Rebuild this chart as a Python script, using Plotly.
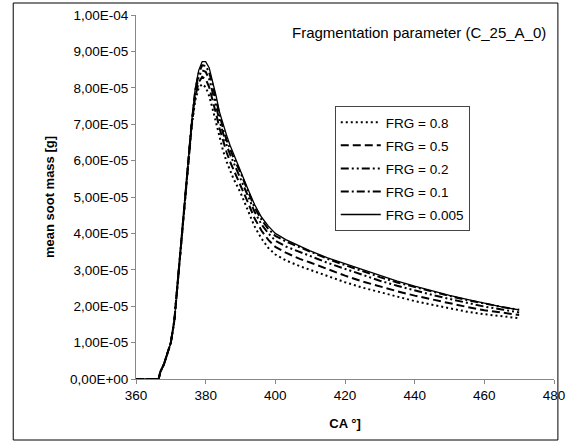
import plotly.graph_objects as go

# crank angle [°]
ca = [360, 362, 364, 366, 366.5, 367, 368, 369, 370, 371, 372, 373, 374, 375, 376,
      377, 378, 379, 380, 381, 382, 383, 384, 385, 386, 387, 388, 390, 392, 394,
      396, 398, 400, 403, 407, 410, 415, 420, 425, 430, 435, 440, 445, 450, 455,
      460, 465, 470]

# mean soot mass in units of 1e-5 g
frg_0_8 = [0, 0, 0, 0, 0, 0.2, 0.4, 0.7, 1.0, 1.6, 2.7, 3.9, 4.8, 5.9, 6.95,
           7.65, 8.0, 8.1, 8.02, 7.78, 7.42, 7.02, 6.62, 6.27, 5.97, 5.72, 5.5, 5.12, 4.65, 4.2,
           3.86, 3.6, 3.42, 3.26, 3.1, 3.0, 2.82, 2.66, 2.51, 2.38, 2.26, 2.14, 2.04, 1.94, 1.85,
           1.78, 1.72, 1.67]
frg_0_5 = [0, 0, 0, 0, 0, 0.2, 0.4, 0.7, 1.0, 1.6, 2.7, 3.9, 4.8, 5.9, 7.0,
           7.75, 8.15, 8.3, 8.24, 8.02, 7.68, 7.28, 6.88, 6.53, 6.23, 5.97, 5.75, 5.36, 4.88, 4.42,
           4.08, 3.82, 3.63, 3.47, 3.3, 3.2, 3.01, 2.84, 2.68, 2.54, 2.41, 2.29, 2.18, 2.07, 1.98,
           1.89, 1.82, 1.76]
frg_0_2 = [0, 0, 0, 0, 0, 0.2, 0.4, 0.7, 1.0, 1.6, 2.7, 3.9, 4.8, 5.9, 7.02,
           7.85, 8.3, 8.48, 8.44, 8.24, 7.9, 7.5, 7.08, 6.73, 6.43, 6.17, 5.95, 5.55, 5.06, 4.6,
           4.25, 4.0, 3.8, 3.64, 3.48, 3.38, 3.19, 3.02, 2.85, 2.7, 2.56, 2.43, 2.31, 2.2, 2.09,
           1.99, 1.91, 1.83]
frg_0_1 = [0, 0, 0, 0, 0, 0.2, 0.4, 0.7, 1.0, 1.6, 2.7, 3.9, 4.8, 5.9, 7.05,
           7.92, 8.4, 8.62, 8.6, 8.42, 8.08, 7.66, 7.22, 6.87, 6.57, 6.3, 6.08, 5.67, 5.17, 4.72,
           4.38, 4.12, 3.93, 3.78, 3.62, 3.5, 3.3, 3.13, 2.96, 2.8, 2.65, 2.52, 2.4, 2.28, 2.17,
           2.07, 1.98, 1.9]
frg_0_005 = [0, 0, 0, 0, 0, 0.2, 0.4, 0.7, 1.0, 1.6, 2.7, 3.9, 4.8, 5.9, 7.08,
             7.98, 8.48, 8.72, 8.72, 8.55, 8.2, 7.78, 7.32, 6.98, 6.7, 6.42, 6.18, 5.75, 5.25, 4.8,
             4.45, 4.2, 4.0, 3.83, 3.65, 3.52, 3.33, 3.17, 3.0, 2.84, 2.69, 2.55, 2.42, 2.3, 2.19,
             2.08, 1.98, 1.9]

series_names = ["FRG = 0.8", "FRG = 0.5", "FRG = 0.2", "FRG = 0.1", "FRG = 0.005"]
series_vals = [frg_0_8, frg_0_5, frg_0_2, frg_0_1, frg_0_005]
series_dash = ["2px,3px", "8px,4px", "8px,3px,2px,3px,2px,3px", "8px,3px,2px,3px", "solid"]
series_width = [2, 2, 2, 2, 1.3]

scale = 1e-5
y_tickvals = [i * 1e-5 for i in range(11)]
y_ticktext = ["0,00E+00", "1,00E-05", "2,00E-05", "3,00E-05", "4,00E-05", "5,00E-05",
              "6,00E-05", "7,00E-05", "8,00E-05", "9,00E-05", "1,00E-04"]
x_tickvals = [360, 380, 400, 420, 440, 460, 480]

fig = go.Figure()
for i, (name, vals, dash, w) in enumerate(zip(series_names, series_vals, series_dash, series_width)):
    fig.add_trace(go.Scatter(
        x=ca, y=[v * scale for v in vals], mode="lines", name=name,
        legendgroup="g%d" % i,
        line=dict(color="black", width=w, dash=dash),
    ))

W, H = 570, 441
ml, mr, mt, mb = 136, 5, 15, 62
pw, ph = W - ml - mr, H - mt - mb

def px_x(p):
    return (p - ml) / pw

def px_y(p):
    return 1 - (p - mt) / ph

fig.update_layout(
    width=W, height=H,
    margin=dict(l=ml, r=mr, t=mt, b=mb),
    paper_bgcolor="white", plot_bgcolor="white",
    font=dict(family="Liberation Sans, Arial, sans-serif", size=13, color="black"),
    showlegend=True,
    legend=dict(
        x=px_x(340), y=px_y(106), xanchor="left", yanchor="top",
        bordercolor="#444", borderwidth=1, bgcolor="white",
        font=dict(size=13.5), tracegroupgap=2.5, itemwidth=40,
        traceorder="grouped",
    ),
    xaxis=dict(
        range=[360, 480], tickvals=x_tickvals, ticks="outside", ticklen=4,
        tickcolor="#888", showline=True, linecolor="#888", linewidth=1,
        showgrid=False, zeroline=False, tickfont=dict(size=13.5),
        ticklabeloverflow="allow",
        title=dict(text="<b>CA °]</b>", font=dict(size=13), standoff=16),
    ),
    yaxis=dict(
        range=[0, 1e-4], tickvals=y_tickvals, ticktext=y_ticktext, ticks="outside",
        ticklen=4, tickcolor="#888", showline=True, linecolor="#888", linewidth=1,
        showgrid=False, zeroline=False, tickfont=dict(size=13.5),
        title=dict(text="<b>mean soot mass [g]</b>", font=dict(size=13), standoff=12),
    ),
    annotations=[dict(
        text="Fragmentation parameter (C_25_A_0)", xref="paper", yref="paper",
        x=px_x(294), y=px_y(32), xanchor="left", yanchor="middle",
        showarrow=False, font=dict(size=15),
    )],
    shapes=[dict(
        type="rect", xref="paper", yref="paper",
        x0=px_x(10), x1=px_x(569), y0=px_y(440), y1=px_y(3),
        line=dict(color="black", width=1), layer="below",
    )],
)

fig.write_html("out.html")
